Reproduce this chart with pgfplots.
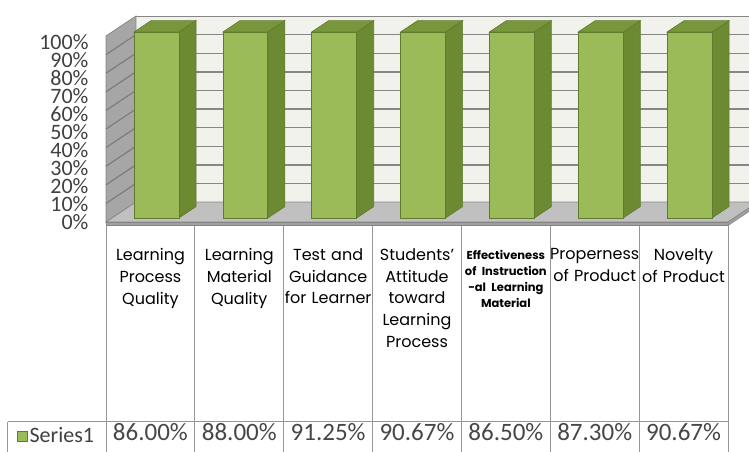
\documentclass[border=0pt]{standalone}
\usepackage{pgfplots}
\pgfplotsset{compat=1.18}
\usepackage{pgfplotstable}
\usepackage{fontspec}
\setmainfont{Carlito}
\newfontfamily\catfont{Poppins}
\definecolor{barfront}{RGB}{155,187,89}
\definecolor{barside}{RGB}{108,138,50}
\definecolor{bartop}{RGB}{120,150,60}
\definecolor{baredge}{RGB}{96,122,46}
\definecolor{wallback}{RGB}{242,242,236}
\definecolor{wallside}{RGB}{166,166,166}
\definecolor{wallline}{RGB}{125,125,125}
\definecolor{floorc}{RGB}{192,192,192}
\definecolor{floorband}{RGB}{160,160,160}
\definecolor{gridc}{RGB}{134,134,134}
\definecolor{tablec}{RGB}{150,150,150}

\pgfplotstableread{
x share value
0 100 86.00
1 100 88.00
2 100 91.25
3 100 90.67
4 100 86.50
5 100 87.30
6 100 90.67
}\datatable

\begin{document}
\begin{tikzpicture}
\begin{axis}[
  at={(106pt,230pt)}, anchor=south west,
  width=622pt, height=186pt, scale only axis,
  xmin=-0.5, xmax=6.5, ymin=0, ymax=100,
  clip=false,
  axis line style={draw=none}, tick style={draw=none},
  /pgf/number format/assume math mode=true,
  ytick={0,9.72,19.44,29.16,38.88,48.6,58.32,68.04,77.76,87.48,97.2},
  yticklabels={0\%,10\%,20\%,30\%,40\%,50\%,60\%,70\%,80\%,90\%,100\%},
  yticklabel style={font=\fontsize{22}{22}\selectfont, color=black!75, anchor=east,
    xshift=-14pt, yshift=-0.8pt, inner ysep=0pt, text height=14pt, text depth=0pt},
  xtick={0,...,6},
  xticklabels={
    {Learning\\Process\\Quality},
    {Learning\\Material\\Quality},
    {Test and\\Guidance\\for Learner},
    {Students’\\Attitude\\toward\\Learning\\Process},
    {\fontsize{11.5}{16}\selectfont\bfseries\begin{tabular}{@{}c@{}}Effectiveness\\of Instruction\\-al Learning\\Material\end{tabular}},
    {Properness\\of Product},
    {Novelty\\of Product}},
  xticklabel style={font=\catfont\fontsize{16}{21.7}\selectfont, text width=89pt, align=center, anchor=north, yshift=-23pt, inner xsep=0pt},
  legend style={at={(-0.148,-1.15)}, anchor=west, draw=none, fill=none,
    font=\fontsize{22}{22}\selectfont, text=black!75},
  legend cell align=left,
]
% back wall
\addplot[forget plot, fill=wallback, draw=gridc, line width=1pt]
  coordinates {(-0.1624,10.75) (6.8376,10.75) (6.8376,110.75) (-0.1624,110.75)} -- cycle;
\pgfplotsinvokeforeach{10,20,...,90}{
  \pgfmathsetmacro\gy{#1+10.75}
  \addplot[forget plot, gridc, line width=1.4pt] coordinates {(-0.1624,\gy) (6.8376,\gy)};
}
% left wall
\addplot[forget plot, fill=wallside, draw=gridc, line width=0.8pt]
  coordinates {(-0.5,0) (-0.1624,10.75) (-0.1624,110.75) (-0.5,100)} -- cycle;
\pgfplotsinvokeforeach{10,20,...,90}{
  \pgfmathsetmacro\gy{#1+10.75}
  \addplot[forget plot, wallline, line width=1.2pt] coordinates {(-0.5,#1) (-0.1624,\gy)};
}
% floor
\addplot[forget plot, fill=floorc, draw=gridc, line width=0.6pt]
  coordinates {(-0.5,0) (6.5,0) (6.8376,10.75) (-0.1624,10.75)} -- cycle;
\addplot[forget plot, fill=floorband, draw=gridc, line width=0.6pt]
  coordinates {(-0.5,0) (6.5,0) (6.5,-1.9) (-0.5,-1.9)} -- cycle;
\addplot[forget plot, fill=floorband, draw=gridc, line width=0.6pt]
  coordinates {(6.5,0) (6.8376,10.75) (6.8376,8.85) (6.5,-1.9)} -- cycle;
% bars (100% stacked, one series)
\pgfplotsinvokeforeach{0,...,6}{
  \pgfplotstablegetelem{#1}{share}\of\datatable
  \pgfmathsetmacro\xa{#1-0.1855}
  \pgfmathsetmacro\xb{#1+0.3205}
  \pgfmathsetmacro\xc{#1+0.5129}
  \pgfmathsetmacro\xd{#1+0.0069}
  \pgfmathsetmacro\yb{\pgfplotsretval+2.15}
  \pgfmathsetmacro\yc{\pgfplotsretval+8.28}
  \addplot[forget plot, fill=barside, draw=baredge, line width=0.6pt]
    coordinates {(\xb,2.15) (\xc,8.28) (\xc,\yc) (\xb,\yb)} -- cycle;
  \addplot[forget plot, fill=bartop, draw=baredge, line width=0.6pt]
    coordinates {(\xa,\yb) (\xb,\yb) (\xc,\yc) (\xd,\yc)} -- cycle;
  \addplot[forget plot, fill=barfront, draw=baredge, line width=0.6pt]
    coordinates {(\xa,2.15) (\xb,2.15) (\xb,\yb) (\xa,\yb)} -- cycle;
}
% data table values
\addplot[forget plot, draw=none, mark=none,
  point meta=\thisrow{value},
  nodes near coords={\pgfmathprintnumber[fixed,fixed zerofill,precision=2]{\pgfplotspointmeta}\%},
  every node near coord/.append style={anchor=center, yshift=-396pt,
    font=\fontsize{25}{25}\selectfont, text=black!72}]
  table[x=x, y=share] {\datatable};
% data table grid
\pgfplotsinvokeforeach{-0.5,0.5,...,6.5}{
  \draw[tablec, line width=1pt] (axis cs:#1,-1.9) -- (axis cs:#1,-124);
}
\draw[tablec, line width=1pt] (axis cs:-1.603,-107.5) -- (axis cs:6.5,-107.5);
\draw[tablec, line width=1pt] (axis cs:-1.603,-107.5) -- (axis cs:-1.603,-124);
\addlegendimage{legend image code/.code={\fill[barfront, draw=baredge] (0pt,-5pt) rectangle (10pt,5pt);}}
\addlegendentry{Series1}
\end{axis}
\pgfresetboundingbox
\useasboundingbox (0,0) rectangle (749pt,452pt);
\end{tikzpicture}
\end{document}
